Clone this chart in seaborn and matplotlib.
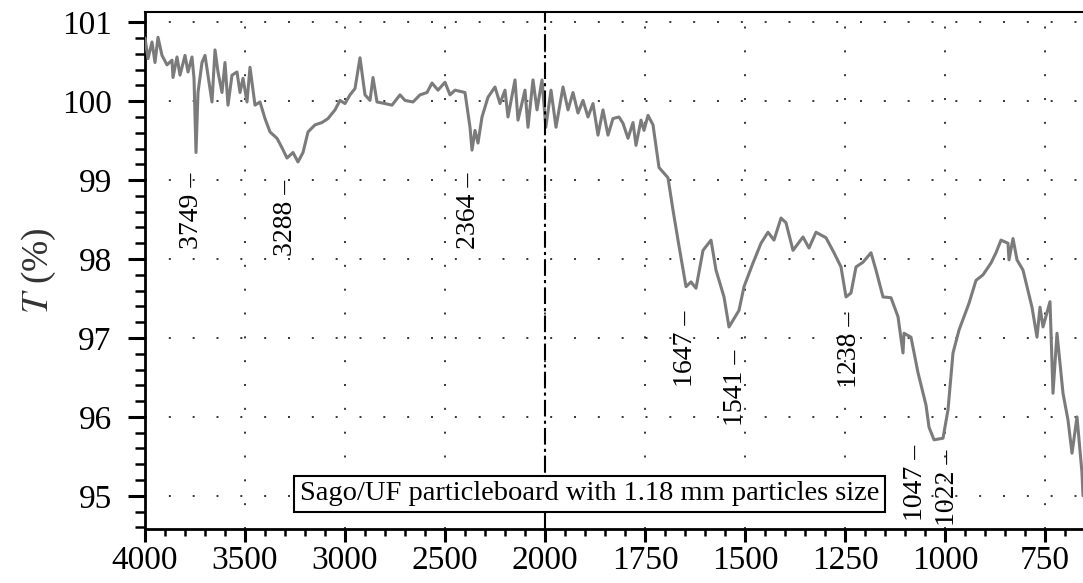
import numpy as np
import pandas as pd
import matplotlib
matplotlib.use('Agg')
import matplotlib.pyplot as plt
import seaborn as sns
from matplotlib.ticker import FixedLocator

# ---- data ----
wavenumber = [4000, 3985, 3965, 3950, 3935, 3915, 3890, 3865, 3860, 3840, 3825, 3800, 3785, 3765,
              3755, 3745, 3735, 3715, 3700, 3685, 3665, 3650, 3635, 3615, 3600, 3585, 3565, 3540,
              3525, 3510, 3490, 3475, 3450, 3425, 3400, 3375, 3340, 3315, 3290, 3260, 3235, 3210,
              3185, 3150, 3115, 3085, 3050, 3025, 3000, 2975, 2950, 2925, 2900, 2875, 2860, 2840,
              2800, 2765, 2725, 2700, 2660, 2625, 2590, 2565, 2535, 2500, 2475, 2450, 2400, 2375,
              2365, 2350, 2335, 2315, 2285, 2250, 2225, 2200, 2185, 2150, 2135, 2100, 2085, 2060,
              2040, 2015, 1998, 1985, 1972.5, 1955, 1942.5, 1930, 1917.5, 1905, 1892.5, 1880, 1867.5,
              1855, 1842.5, 1830, 1815, 1805, 1792.5, 1780, 1772.5, 1760, 1752.5, 1742.5, 1730, 1715,
              1692.5, 1680, 1667.5, 1647.5, 1635, 1622.5, 1605, 1585, 1572.5, 1552.5, 1540, 1515,
              1502.5, 1480, 1460, 1442.5, 1427.5, 1410, 1397.5, 1380, 1355, 1340, 1322.5, 1297.5,
              1277.5, 1260, 1247.5, 1235, 1222.5, 1205, 1185, 1172.5, 1155, 1135, 1117.5, 1105,
              1102.5, 1085, 1067.5, 1047.5, 1040, 1027.5, 1005, 992.5, 980, 965, 940, 922.5, 905,
              885, 872.5, 860, 842.5, 840, 830, 820, 805, 782.5, 770, 762.5, 755, 737.5, 730, 720,
              705, 692.5, 682.5, 670, 657.5, 655]
transmittance = [100.80, 100.54, 100.75, 100.49, 100.81, 100.58, 100.46, 100.52, 100.30, 100.56,
                 100.33, 100.58, 100.37, 100.56, 100.29, 99.35, 100.11, 100.49, 100.58, 100.33,
                 99.99, 100.65, 100.37, 100.11, 100.49, 99.95, 100.33, 100.37, 100.11, 100.29,
                 99.99, 100.43, 99.95, 99.99, 99.78, 99.61, 99.53, 99.41, 99.28, 99.35, 99.23,
                 99.35, 99.61, 99.70, 99.73, 99.78, 99.89, 100.01, 99.97, 100.08, 100.16, 100.55,
                 100.08, 100.01, 100.30, 99.99, 99.97, 99.95, 100.08, 100.01, 99.99, 100.08,
                 100.11, 100.23, 100.14, 100.24, 100.08, 100.14, 100.11, 99.67, 99.38, 99.63,
                 99.47, 99.80, 100.05, 100.18, 99.97, 100.14, 99.80, 100.27, 99.76, 100.14, 99.67,
                 100.27, 99.89, 100.27, 99.67, 100.14, 99.67, 100.18, 99.89, 100.11, 99.85, 100.01,
                 99.80, 99.97, 99.57, 99.89, 99.57, 99.78, 99.80, 99.72, 99.53, 99.73, 99.44,
                 99.76, 99.63, 99.82, 99.70, 99.16, 99.03, 98.62, 98.24, 97.65, 97.71, 97.63,
                 98.11, 98.24, 97.86, 97.52, 97.14, 97.35, 97.65, 97.95, 98.20, 98.34, 98.24,
                 98.52, 98.46, 98.11, 98.28, 98.14, 98.34, 98.27, 98.08, 97.90, 97.52, 97.57,
                 97.90, 97.96, 98.08, 97.86, 97.52, 97.51, 97.27, 96.81, 97.06, 97.01, 96.56,
                 96.15, 95.87, 95.71, 95.73, 96.09, 96.81, 97.10, 97.44, 97.73, 97.80, 97.95,
                 98.08, 98.24, 98.20, 97.99, 98.26, 97.99, 97.86, 97.39, 97.01, 97.39, 97.14,
                 97.46, 96.30, 97.06, 96.30, 95.96, 95.54, 96.00, 95.29, 95.00]

peak_labels = ['3749', '3288', '2364', '1647', '1541', '1238', '1047', '1022']
peak_label_x = [3765, 3300, 2385, 1647.5, 1522.5, 1240, 1072.5, 992.5]
peak_label_y = [99.10, 99.00, 99.10, 97.35, 96.85, 97.33, 95.65, 95.58]

x_ticks = [4000, 3500, 3000, 2500, 2000, 1750, 1500, 1250, 1000, 750]
y_ticks = [95, 96, 97, 98, 99, 100, 101]
sample_label = 'Sago/UF particleboard with 1.18 mm particles size'
y_label = r'$T$ (%)'

# ---- style ----
sns.set_theme(style='ticks')
plt.rcParams['font.family'] = ['Liberation Serif', 'DejaVu Serif']
plt.rcParams['mathtext.fontset'] = 'stix'

fig = plt.figure(figsize=(10.83, 5.83), dpi=100)
ax = fig.add_axes([145 / 1083, 54 / 583, 938 / 1083, 517 / 583])


def fwd(x):
    x = np.asarray(x, dtype=float)
    return np.where(x > 2000, 2000 + (x - 2000) / 2.0, x)


def inv(y):
    y = np.asarray(y, dtype=float)
    return np.where(y > 2000, 2000 + (y - 2000) * 2.0, y)


ax.set_xscale('function', functions=(fwd, inv))

df = pd.DataFrame({'wn': wavenumber, 'T': transmittance})
sns.lineplot(data=df, x='wn', y='T', ax=ax, sort=False, estimator=None,
             color='#7b7b7b', lw=2.2, zorder=3)

ax.set_xlim(4000, 655)
ax.set_ylim(94.58, 101.13)

ax.xaxis.set_major_locator(FixedLocator(x_ticks))
minor_x = list(range(4000, 2000, -100)) + list(range(2000, 650, -50))
ax.xaxis.set_minor_locator(FixedLocator(minor_x))
ax.set_xticklabels([str(t) for t in x_ticks])
ax.yaxis.set_major_locator(FixedLocator(y_ticks))
ax.yaxis.set_minor_locator(FixedLocator(list(np.arange(94.6, 101.15, 0.2))))
ax.set_yticklabels([str(t) for t in y_ticks])

ax.tick_params(axis='x', which='major', direction='out', length=9, width=2.2,
               labelsize=24, pad=3, color='black', labelcolor='black')
ax.tick_params(axis='x', which='minor', direction='out', length=5, width=1.8, color='black')
ax.tick_params(axis='y', which='major', direction='out', length=12, width=2.2,
               labelsize=24, pad=12, color='black', labelcolor='black')
ax.tick_params(axis='y', which='minor', direction='out', length=7, width=1.8, color='black')

ax.grid(True, which='major', color='black', linestyle=(0, (1.3, 14.3)), lw=1.1)
ax.axvline(2000, color='black', lw=1.5, linestyle=(0, (8, 2, 1.5, 2)), zorder=4)

for s in ['left', 'bottom']:
    ax.spines[s].set_linewidth(2.0)
    ax.spines[s].set_color('black')
ax.spines['top'].set_linewidth(1.5)
ax.spines['top'].set_color('black')
ax.spines['right'].set_visible(False)

for lab, px, py in zip(peak_labels, peak_label_x, peak_label_y):
    ax.text(px, py, f'{lab} \u2013', rotation=90, ha='center', va='top',
            fontsize=20, color='black', zorder=5)

ax.text(0.474, 0.068, sample_label, transform=ax.transAxes, ha='center', va='center',
        fontsize=20.5, color='black', zorder=6,
        bbox=dict(boxstyle='square,pad=0.2', fc='white', ec='black', lw=1.5))

ax.set_xlabel('')
ax.set_ylabel(y_label, fontsize=27, color='#333333')
ax.yaxis.set_label_coords(-0.093, 0.5)

fig.savefig('out.png', dpi=100)
